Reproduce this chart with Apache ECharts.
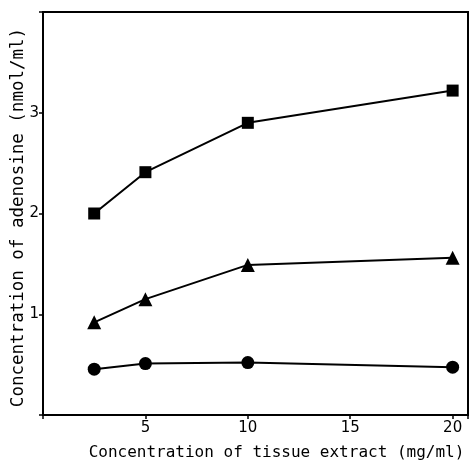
<!DOCTYPE html>
<html><head><meta charset="utf-8">
<script src="https://cdn.jsdelivr.net/npm/echarts@6/dist/echarts.min.js"></script>
<style>html,body{margin:0;padding:0;background:#fff}#c{width:470px;height:461px}</style>
</head><body><div id="c"></div>
<script>
const xValues = [2.5, 5, 10, 20];
const squareSeries = [2.0, 2.41, 2.9, 3.22];
const triangleSeries = [0.92, 1.15, 1.49, 1.56];
const circleSeries = [0.455, 0.51, 0.52, 0.475];
const xTickLabels = ['5', '10', '15', '20'];
const yTickLabels = ['1', '2', '3'];
const xTitle = 'Concentration of tissue extract (mg/ml)';
const yTitle = 'Concentration of adenosine (nmol/ml)';

const font = 'DejaVu Sans';
const titleFont = 'DejaVu Sans Mono';
function pairs(ys){ return xValues.map((x,i)=>[x, ys[i]]); }
function mk(name, ys, symbol, size){
  return {name, type:'line', data:pairs(ys), symbol, symbolSize:size,
    lineStyle:{color:'#000', width:2}, itemStyle:{color:'#000'}, animation:false};
}
const chart = echarts.init(document.getElementById('c'));
chart.setOption({
  animation:false,
  grid:{left:43, top:12, right:2, bottom:46, containLabel:false, outerBoundsMode:'none',
    show:true, borderColor:'#000', borderWidth:2, backgroundColor:'transparent'},
  xAxis:{type:'value', min:0, max:20.75, interval:5,
    axisLine:{lineStyle:{color:'#000', width:2}},
    axisTick:{show:true, length:4, lineStyle:{color:'#000', width:1.5}},
    splitLine:{show:false},
    axisLabel:{color:'#000', fontFamily:font, fontSize:15, margin:6,
      formatter:v=>xTickLabels.includes(String(v))?String(v):''},
    name:xTitle, nameLocation:'middle', nameGap:30,
    nameTextStyle:{color:'#000', fontFamily:titleFont, fontSize:16, padding:[0,0,0,42]}},
  yAxis:{type:'value', min:0, max:4, interval:1,
    axisLine:{lineStyle:{color:'#000', width:2}},
    axisTick:{show:true, length:4, lineStyle:{color:'#000', width:1.5}},
    splitLine:{show:false},
    axisLabel:{color:'#000', fontFamily:font, fontSize:15, margin:4,
      formatter:v=>yTickLabels.includes(String(v))?String(v):''},
    name:yTitle, nameLocation:'middle', nameGap:16, nameMoveOverlap:false,
    nameTextStyle:{color:'#000', fontFamily:titleFont, fontSize:17.5, padding:[0,8,0,0]}},
  series:[
    mk('square', squareSeries, 'rect', 12),
    mk('triangle', triangleSeries, 'triangle', 14),
    mk('circle', circleSeries, 'circle', 13)
  ]
});
</script></body></html>
